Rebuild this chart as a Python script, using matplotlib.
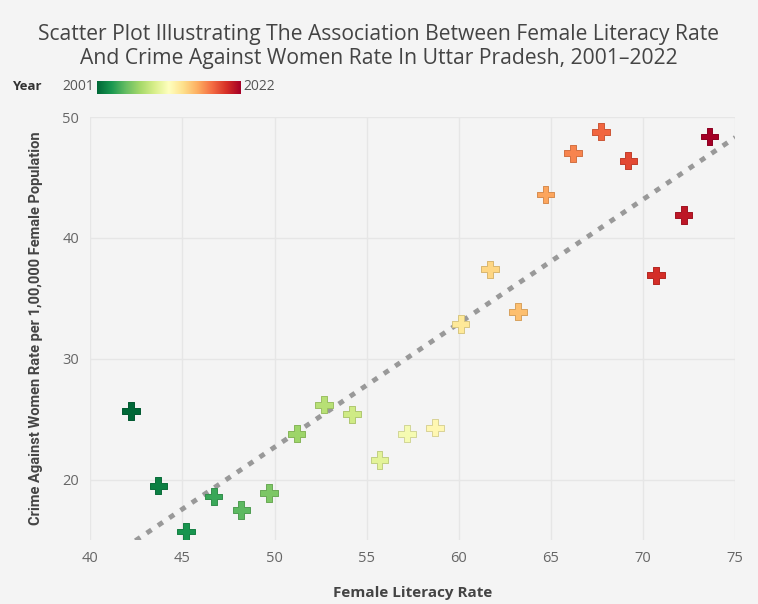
import matplotlib
matplotlib.use("Agg")
import matplotlib.pyplot as plt
import numpy as np

# data
years = list(range(2001, 2023))
literacy = [42.2, 43.7, 45.2, 46.7, 48.2, 49.7, 51.2, 52.7, 54.2, 55.7, 57.2,
            58.7, 60.1, 61.7, 63.2, 64.7, 66.2, 67.7, 69.2, 70.7, 72.2, 73.6]
crime = [25.7, 19.5, 15.7, 18.6, 17.5, 18.9, 23.8, 26.2, 25.4, 21.6, 23.8,
         24.3, 32.9, 37.4, 33.9, 43.6, 47.0, 48.8, 46.4, 36.9, 41.9, 48.4]

x_ticks = [40, 45, 50, 55, 60, 65, 70, 75]
y_ticks = [20, 30, 40, 50]

BG = "#f4f4f4"
TXT = "#444444"

plt.rcParams['font.family'] = ['Open Sans', 'DejaVu Sans']

fig = plt.figure(figsize=(7.58, 6.04), dpi=100, facecolor=BG)
ax = fig.add_axes([0.119, 0.106, 0.851, 0.700], facecolor=BG)

cmap = plt.get_cmap("RdYlGn_r")
norm = plt.Normalize(min(years), max(years))
cols = cmap(norm(np.array(years)))
edge = [tuple(np.clip(np.array(c[:3]) * 0.85, 0, 1)) for c in cols]

# trend line
a, b = np.polyfit(literacy, crime, 1)
xs = np.linspace(40, 75, 200)
ax.plot(xs, a * xs + b, ls=(0, (1.2, 1.6)), color="#999999", lw=3.5, zorder=2)

ax.scatter(literacy, crime, marker="P", s=160, c=cols, edgecolors=edge,
           linewidths=0.7, zorder=3)

ax.set_xlim(40, 75)
ax.set_ylim(15, 50)
ax.set_xticks(x_ticks)
ax.set_yticks(y_ticks)
ax.grid(True, color="#e6e6e6", lw=1)
ax.set_axisbelow(True)
for s in ax.spines.values():
    s.set_visible(False)
ax.tick_params(length=0, labelsize=10.5, labelcolor="#666666", pad=8)

ax.set_xlabel("Female Literacy Rate", fontsize=11, fontweight="bold",
              color=TXT, labelpad=14)
ax.set_ylabel("Crime Against Women Rate per 1,00,000 Female Population",
              fontsize=10.5, fontweight="bold", color=TXT, labelpad=14,
              family=["Roboto", "DejaVu Sans"])

fig.text(0.5, 0.96, "Scatter Plot Illustrating The Association Between Female Literacy Rate\n"
         "And Crime Against Women Rate In Uttar Pradesh, 2001\u20132022",
         ha="center", va="top", fontsize=15.2, color=TXT, linespacing=1.2)

# colour legend
cax = fig.add_axes([97 / 758, 1 - 94 / 604, 143 / 758, 13 / 604])
cax.imshow(np.linspace(0, 1, 256)[None, :], aspect="auto", cmap=cmap)
cax.set_xticks([])
cax.set_yticks([])
for s in cax.spines.values():
    s.set_visible(False)
fig.text(12 / 758, 1 - 87 / 604, "Year", fontsize=9.5, fontweight="bold",
         color="#333333", va="center")
fig.text(94 / 758, 1 - 87 / 604, str(min(years)), fontsize=10, color="#555555",
         va="center", ha="right")
fig.text(243 / 758, 1 - 87 / 604, str(max(years)), fontsize=10, color="#555555",
         va="center", ha="left")

fig.savefig("out.png", dpi=100, facecolor=BG)
